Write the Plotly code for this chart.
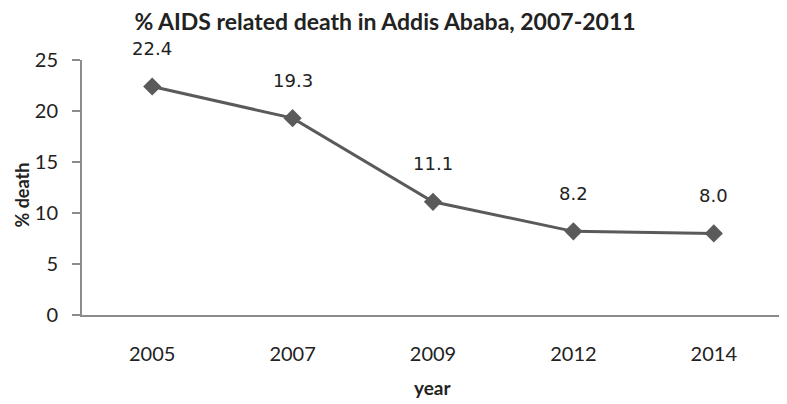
import plotly.graph_objects as go

# data
years = ["2005", "2007", "2009", "2012", "2014"]
pct_death = [22.4, 19.3, 11.1, 8.2, 8.0]
labels = ["22.4", "19.3", "11.1", "8.2", "8.0"]

pos = list(range(len(years)))

# page body has an 8px default margin, so the figure is shrunk by that much
W, H = 779, 396

fig = go.Figure()
fig.add_trace(go.Scatter(
    x=pos, y=pct_death,
    mode="lines+markers",
    line=dict(color="#5a5a5a", width=3),
    marker=dict(symbol="diamond", size=14, color="#5a5a5a"),
    showlegend=False,
))

# data labels above points
for p, v, lab in zip(pos, pct_death, labels):
    fig.add_annotation(x=p, y=v, text=lab, showarrow=False, yshift=38,
                       font=dict(family="DejaVu Sans", size=18, color="#222222"))

fig.add_annotation(text="<b>% death</b>", textangle=-90, xref="paper", yref="paper",
                   x=-0.085, xanchor="center", y=0.47, yanchor="middle", showarrow=False,
                   font=dict(family="Lato", size=18, color="#222222"))
fig.add_annotation(text="<b>year</b>", xref="paper", yref="paper",
                   x=0.5, xanchor="center", y=-0.286, yanchor="middle", showarrow=False,
                   font=dict(family="Lato", size=19, color="#222222"))

fig.update_layout(
    template="none",
    width=W, height=H,
    margin=dict(l=74, r=3, t=52, b=89),
    paper_bgcolor="white", plot_bgcolor="white",
    title=dict(text="<b>% AIDS related death in Addis Ababa, 2007-2011</b>",
               x=377 / W, xanchor="center", y=1 - 14 / H, yanchor="middle",
               font=dict(family="Lato", size=23, color="#222222")),
    xaxis=dict(range=[-0.5, len(years) - 0.5], tickvals=pos, ticktext=years,
               automargin=False, showline=True, linecolor="#8c8c8c", linewidth=2,
               showgrid=False, zeroline=False, ticks="", ticklabelstandoff=20,
               tickfont=dict(family="Lato", size=20, color="#222222")),
    yaxis=dict(range=[0, 25], dtick=5, automargin=False, showline=True,
               linecolor="#8c8c8c", linewidth=2,
               showgrid=False, zeroline=False, ticks="outside", ticklen=8,
               tickcolor="#8c8c8c", tickwidth=2, ticklabelstandoff=10,
               tickfont=dict(family="Lato", size=20, color="#222222")),
)

fig.write_html("out.html")
